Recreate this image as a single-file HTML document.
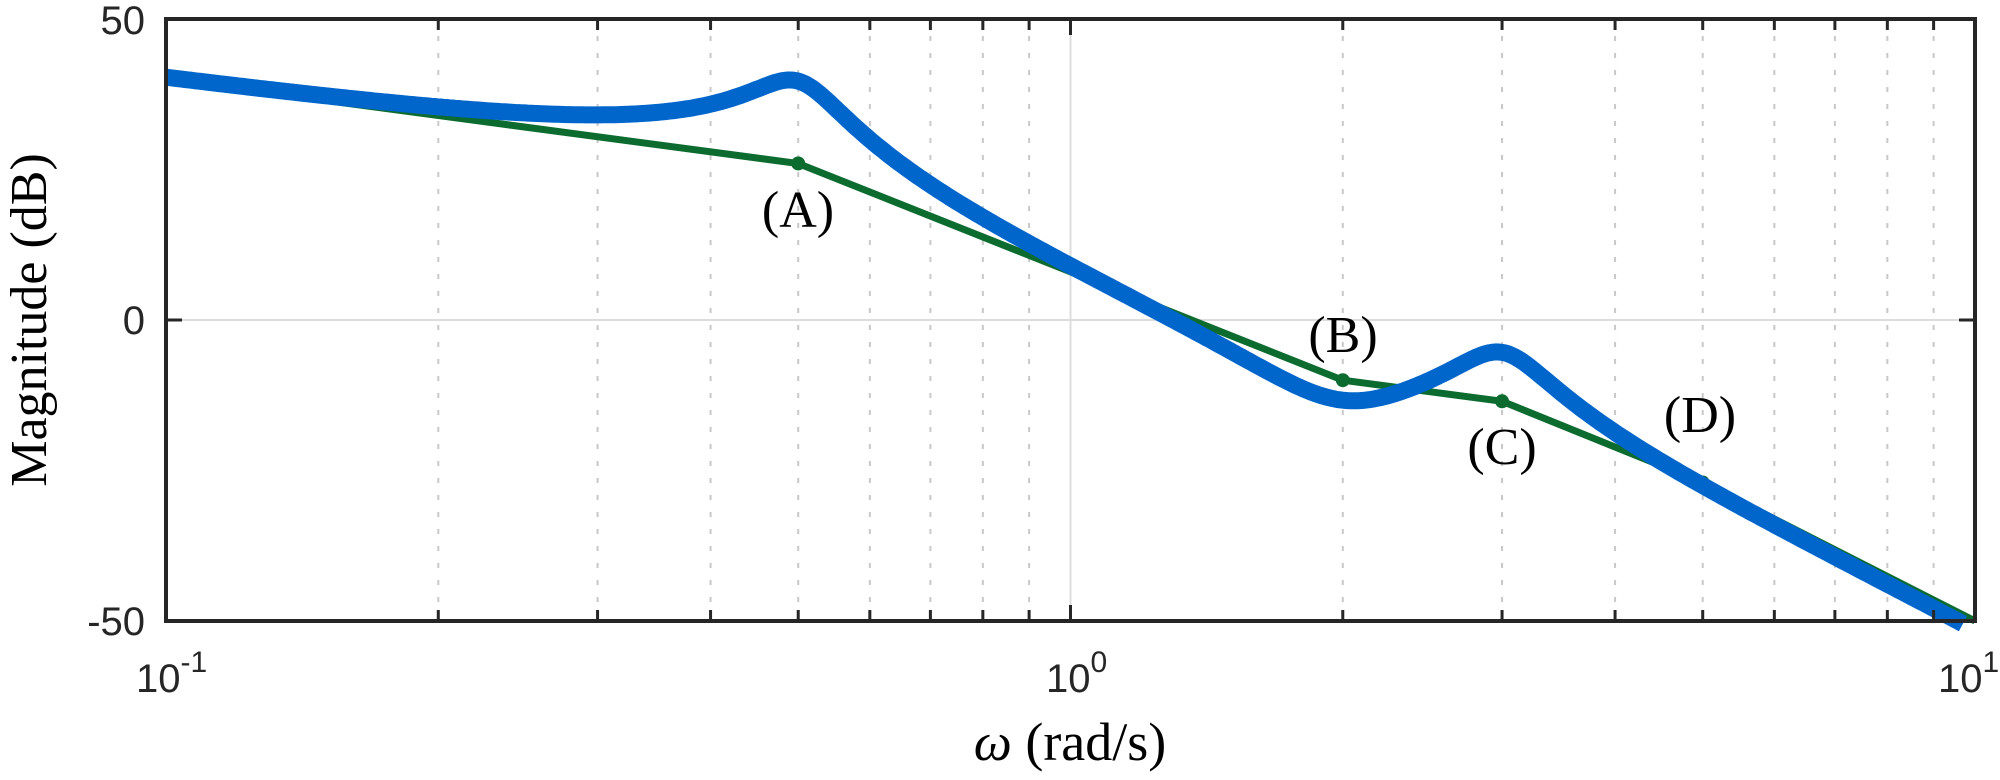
<!DOCTYPE html>
<html><head><meta charset="utf-8"><style>
html,body{margin:0;padding:0;background:#fff;}
svg text{font-family:"Liberation Sans",sans-serif;fill:#262626;}
.s{font-family:"Liberation Serif",serif;fill:#000;}
</style></head><body>
<svg id="c" width="2000" height="775" xmlns="http://www.w3.org/2000/svg">
<rect width="2000" height="775" fill="#fff"/>
<g id="grid"></g>
<line x1="166" y1="320" x2="1975" y2="320" stroke="#dcdcdc" stroke-width="2"/>
<line x1="1070.5" y1="19" x2="1070.5" y2="621" stroke="#dcdcdc" stroke-width="2"/>
<path id="green" fill="none" stroke="#0c6b2f" stroke-width="7"/>
<g id="dots" fill="#0c6b2f"></g>
<path id="blue" fill="none" stroke="#0066cc" stroke-width="17" stroke-linejoin="round"/>
<rect x="166" y="19" width="1809" height="602" fill="none" stroke="#262626" stroke-width="4"/>
<g id="ticks" stroke="#262626" stroke-width="3"></g>
<text x="145" y="34" font-size="40" text-anchor="end">50</text>
<text x="145" y="334" font-size="40" text-anchor="end">0</text>
<text x="145" y="635" font-size="40" text-anchor="end">-50</text>
<text x="136" y="692" font-size="40">10<tspan dy="-20" font-size="30">-1</tspan></text>
<text x="1046" y="692" font-size="40">10<tspan dy="-20" font-size="30">0</tspan></text>
<text x="1938" y="692" font-size="40">10<tspan dy="-20" font-size="30">1</tspan></text>
<text class="s" x="1070" y="760" font-size="54" text-anchor="middle"><tspan font-style="italic">ω</tspan> (rad/s)</text>
<text class="s" font-size="52" text-anchor="middle" transform="translate(46,320) rotate(-90)">Magnitude (dB)</text>
<text class="s" x="798" y="227" font-size="52" text-anchor="middle">(A)</text>
<text class="s" x="1343" y="352" font-size="52" text-anchor="middle">(B)</text>
<text class="s" x="1502" y="464" font-size="52" text-anchor="middle">(C)</text>
<text class="s" x="1700" y="432" font-size="52" text-anchor="middle">(D)</text>
</svg>
<script>
function X(w){return 166+1809*(Math.log10(w)+1)/2;}
function Y(d){return 19+602*(50-d)/100;}
var g='',t='';
var ws=[0.2,0.3,0.4,0.5,0.6,0.7,0.8,0.9,2,3,4,5,6,7,8,9];
ws.forEach(function(w){var x=X(w);
 g+='<line x1="'+x+'" y1="19" x2="'+x+'" y2="621" stroke="#c8c8c8" stroke-width="2" stroke-dasharray="5,12"/>';
 t+='<line x1="'+x+'" y1="621" x2="'+x+'" y2="610"/><line x1="'+x+'" y1="19" x2="'+x+'" y2="30"/>';});
var x1=X(1);t+='<line x1="'+x1+'" y1="621" x2="'+x1+'" y2="605"/><line x1="'+x1+'" y1="19" x2="'+x1+'" y2="35"/>';
t+='<line x1="166" y1="320" x2="182" y2="320"/><line x1="1975" y1="320" x2="1959" y2="320"/>';
document.getElementById('grid').innerHTML=g;
document.getElementById('ticks').innerHTML=t;
var pts=[[0.1,40],[0.5,26],[2,-10],[3,-13.5],[5,-27],[10,-50]];
var d='',dots='';
pts.forEach(function(p,i){d+=(i?'L':'M')+X(p[0]).toFixed(1)+','+Y(p[1]).toFixed(1);
 if(i>0&&i<5)dots+='<circle cx="'+X(p[0])+'" cy="'+Y(p[1])+'" r="7"/>';});
document.getElementById('green').setAttribute('d',d);
document.getElementById('dots').innerHTML=dots;
function q(w,wn,z){var a=1-w*w/(wn*wn),b=2*z*w/wn;return Math.sqrt(a*a+b*b);}
var bd='';
for(var i=0;i<=600;i++){var w=Math.pow(10,-1+2*i/600);
 var m=10*q(w,2,0.2)/(w*q(w,0.5,0.1)*q(w,3,0.105)*Math.sqrt(1+w*w/25));
 var db=20*Math.log10(m); if(db<-50.5)break;
 bd+=(i?'L':'M')+X(w).toFixed(1)+','+Y(db).toFixed(1);}
document.getElementById('blue').setAttribute('d',bd);
</script>
</body></html>
